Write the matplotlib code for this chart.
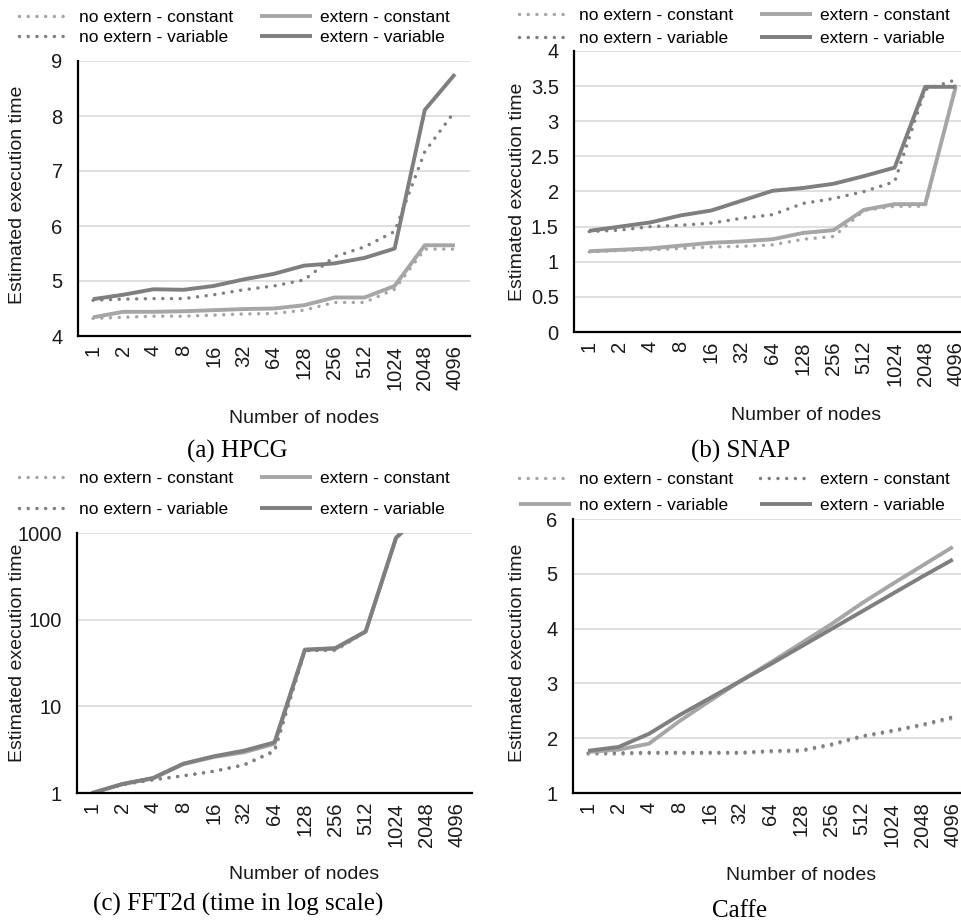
import numpy as np
import matplotlib.pyplot as plt

NODES = ['1', '2', '4', '8', '16', '32', '64', '128', '256', '512', '1024', '2048', '4096']

# (a) HPCG
hpcg_noext_const = [4.32, 4.34, 4.36, 4.36, 4.38, 4.40, 4.41, 4.47, 4.61, 4.61, 4.85, 5.58, 5.58]
hpcg_ext_const = [4.34, 4.44, 4.44, 4.45, 4.47, 4.49, 4.50, 4.56, 4.70, 4.70, 4.91, 5.65, 5.65]
hpcg_noext_var = [4.65, 4.67, 4.68, 4.68, 4.75, 4.84, 4.91, 5.02, 5.44, 5.62, 5.90, 7.35, 8.09]
hpcg_ext_var = [4.67, 4.75, 4.85, 4.84, 4.91, 5.03, 5.13, 5.28, 5.32, 5.42, 5.59, 8.11, 8.76]

# (b) SNAP
snap_noext_const = [1.14, 1.16, 1.17, 1.19, 1.21, 1.22, 1.24, 1.32, 1.36, 1.73, 1.79, 1.79, 3.52]
snap_ext_const = [1.15, 1.17, 1.19, 1.23, 1.27, 1.29, 1.32, 1.41, 1.45, 1.74, 1.82, 1.82, 3.49]
snap_noext_var = [1.43, 1.45, 1.50, 1.52, 1.55, 1.62, 1.67, 1.83, 1.90, 2.00, 2.14, 3.45, 3.59]
snap_ext_var = [1.44, 1.50, 1.56, 1.66, 1.73, 1.87, 2.01, 2.05, 2.11, 2.22, 2.34, 3.49, 3.49]

# (c) FFT2d
fft_noext_const = [1.0, 1.25, 1.42, 1.58, 1.78, 2.10, 3.00, 44, 44, 72, 870, 1900, 4000]
fft_ext_const = [1.0, 1.27, 1.47, 2.15, 2.60, 2.95, 3.70, 45, 46, 73, 880, 1900, 4000]
fft_noext_var = [1.0, 1.25, 1.42, 1.58, 1.78, 2.12, 3.08, 44, 45, 73, 880, 1900, 4000]
fft_ext_var = [1.0, 1.27, 1.49, 2.18, 2.65, 3.08, 3.84, 45, 47, 73, 880, 1900, 4000]

# Caffe
caffe_noext_const = [1.71, 1.71, 1.72, 1.72, 1.72, 1.72, 1.75, 1.76, 1.87, 2.02, 2.12, 2.23, 2.36]
caffe_ext_const = [1.73, 1.73, 1.74, 1.74, 1.74, 1.74, 1.77, 1.78, 1.89, 2.04, 2.14, 2.25, 2.39]
caffe_noext_var = [1.75, 1.79, 1.90, 2.31, 2.68, 3.04, 3.38, 3.73, 4.08, 4.46, 4.81, 5.15, 5.49]
caffe_ext_var = [1.77, 1.84, 2.08, 2.42, 2.73, 3.04, 3.35, 3.67, 3.99, 4.31, 4.63, 4.95, 5.26]

LIGHT = '#a6a6a6'
DARK = '#7f7f7f'
SANS = 'Liberation Sans'
SERIF = 'Liberation Serif'
TXT = '#1a1a1a'

W, H = 962, 922
fig = plt.figure(figsize=(W / 100, H / 100), dpi=100)


def box(left, top, right, bottom):
    return [left / W, 1 - bottom / H, (right - left) / W, (bottom - top) / H]


def style(kind):
    color, dotted = kind
    if dotted:
        return dict(color=color, lw=2.5, linestyle=(0, (0.01, 2.5)),
                    dash_capstyle='round', solid_capstyle='round')
    return dict(color=color, lw=2.8, solid_joinstyle='round', solid_capstyle='butt')


def panel(rect, series, ylim, yticks, ytl, leg_xy, leg_sp, ylab_xy, xlab_xy,
          caption, cap_xy, log=False):
    ax = fig.add_axes(box(*rect))
    x = np.arange(len(NODES))
    handles = []
    for label, vals, kind in series:
        h, = ax.plot(x, vals, label=label, **style(kind))
        handles.append(h)
    if log:
        ax.set_yscale('log')
    ax.set_xlim(-0.5, len(NODES) - 0.5)
    ax.set_ylim(*ylim)
    ax.set_yticks(yticks)
    ax.set_yticklabels(ytl)
    ax.minorticks_off()
    ax.set_xticks(x)
    ax.set_xticklabels(NODES, rotation=90)
    ax.tick_params(length=0, labelsize=14.5, colors=TXT)
    ax.tick_params(axis='y', pad=11)
    ax.tick_params(axis='x', pad=6.5)
    for t in ax.get_xticklabels() + ax.get_yticklabels():
        t.set_fontfamily(SANS)
    ax.grid(axis='y', color='#d9d9d9', lw=1.2)
    ax.set_axisbelow(True)
    for s in ['top', 'right']:
        ax.spines[s].set_visible(False)
    for s in ['left', 'bottom']:
        ax.spines[s].set_linewidth(1.6)
        ax.spines[s].set_color('black')
        ax.spines[s].set_zorder(5)
    order = [0, 2, 1, 3]
    ax.legend([handles[i] for i in order], [series[i][0] for i in order],
              ncol=2, frameon=False, loc='upper left',
              bbox_to_anchor=(leg_xy[0] / W, 1 - leg_xy[1] / H),
              bbox_transform=fig.transFigure,
              prop={'family': SANS, 'size': 12.5},
              handlelength=3.0, handletextpad=0.45, columnspacing=1.55,
              labelspacing=leg_sp, borderaxespad=0, borderpad=0)
    fig.text(ylab_xy[0] / W, 1 - ylab_xy[1] / H, 'Estimated execution time',
             rotation=90, ha='center', va='center', family=SANS, size=14, color=TXT)
    fig.text(xlab_xy[0] / W, 1 - xlab_xy[1] / H, 'Number of nodes',
             ha='center', va='baseline', family=SANS, size=14, color=TXT)
    fig.text(cap_xy[0] / W, 1 - cap_xy[1] / H, caption,
             ha='center', va='baseline', family=SERIF, size=18, color='black')
    return ax


panel((78, 61, 470, 336),
      [('no extern - constant', hpcg_noext_const, (LIGHT, True)),
       ('extern - constant', hpcg_ext_const, (LIGHT, False)),
       ('no extern - variable', hpcg_noext_var, (DARK, True)),
       ('extern - variable', hpcg_ext_var, (DARK, False))],
      (4, 9), [4, 5, 6, 7, 8, 9], ['4', '5', '6', '7', '8', '9'],
      (19, 10), 0.27, (18, 195), (304, 423), '(a) HPCG', (237, 458))

panel((574, 51, 971, 332),
      [('no extern - constant', snap_noext_const, (LIGHT, True)),
       ('extern - constant', snap_ext_const, (LIGHT, False)),
       ('no extern - variable', snap_noext_var, (DARK, True)),
       ('extern - variable', snap_ext_var, (DARK, False))],
      (0, 4), [0, 0.5, 1, 1.5, 2, 2.5, 3, 3.5, 4],
      ['0', '0.5', '1', '1.5', '2', '2.5', '3', '3.5', '4'],
      (519, 8), 0.42, (518, 192), (806, 420), '(b) SNAP', (741, 458))

panel((77, 533, 472, 793),
      [('no extern - constant', fft_noext_const, (LIGHT, True)),
       ('extern - constant', fft_ext_const, (LIGHT, False)),
       ('no extern - variable', fft_noext_var, (DARK, True)),
       ('extern - variable', fft_ext_var, (DARK, False))],
      (1, 1000), [1, 10, 100, 1000], ['1', '10', '100', '1000'],
      (19, 471), 0.92, (17.5, 653), (304, 879), '(c) FFT2d (time in log scale)', (238, 911),
      log=True)

panel((573, 519, 968, 793),
      [('no extern - constant', caffe_noext_const, (LIGHT, True)),
       ('extern - constant', caffe_ext_const, (DARK, True)),
       ('no extern - variable', caffe_noext_var, (LIGHT, False)),
       ('extern - variable', caffe_ext_var, (DARK, False))],
      (1, 6), [1, 2, 3, 4, 5, 6], ['1', '2', '3', '4', '5', '6'],
      (519, 472), 0.62, (517.5, 653), (801, 880), 'Caffe', (740, 917))

fig.savefig('out.png', dpi=100)
